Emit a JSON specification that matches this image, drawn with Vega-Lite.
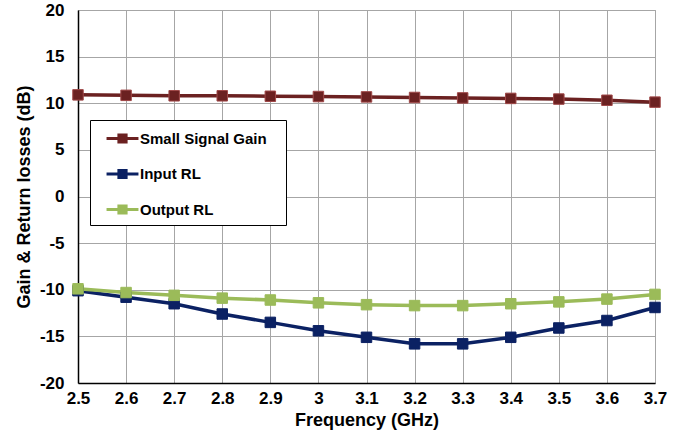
{
  "$schema": "https://vega.github.io/schema/vega-lite/v6.json",
  "width": 577,
  "height": 373,
  "autosize": {"type": "none"},
  "padding": {"left": 78, "top": 10, "right": 24, "bottom": 57},
  "background": "white",
  "config": {
    "font": "Liberation Sans",
    "view": {"stroke": "#9a9a9a", "strokeWidth": 1},
    "axis": {
      "labelFont": "Liberation Sans",
      "labelFontSize": 17,
      "labelFontWeight": "bold",
      "labelColor": "black",
      "titleFont": "Liberation Sans",
      "titleFontSize": 18,
      "titleFontWeight": "bold",
      "titleColor": "black",
      "domainColor": "black",
      "domainWidth": 1.5,
      "gridColor": "#a6a6a6",
      "gridWidth": 1,
      "gridOpacity": 1,
      "ticks": false
    },
    "legend": {
      "labelFont": "Liberation Sans",
      "labelFontSize": 15,
      "labelFontWeight": "bold",
      "labelColor": "black"
    }
  },
  "data": {
    "values": [
      {"f": 2.5, "s": "Small Signal Gain", "v": 10.9},
      {"f": 2.6, "s": "Small Signal Gain", "v": 10.85},
      {"f": 2.7, "s": "Small Signal Gain", "v": 10.8},
      {"f": 2.8, "s": "Small Signal Gain", "v": 10.8},
      {"f": 2.9, "s": "Small Signal Gain", "v": 10.75},
      {"f": 3.0, "s": "Small Signal Gain", "v": 10.72},
      {"f": 3.1, "s": "Small Signal Gain", "v": 10.68},
      {"f": 3.2, "s": "Small Signal Gain", "v": 10.62},
      {"f": 3.3, "s": "Small Signal Gain", "v": 10.57},
      {"f": 3.4, "s": "Small Signal Gain", "v": 10.52},
      {"f": 3.5, "s": "Small Signal Gain", "v": 10.45},
      {"f": 3.6, "s": "Small Signal Gain", "v": 10.32},
      {"f": 3.7, "s": "Small Signal Gain", "v": 10.12},
      {"f": 2.5, "s": "Input RL", "v": -10.1},
      {"f": 2.6, "s": "Input RL", "v": -10.8},
      {"f": 2.7, "s": "Input RL", "v": -11.5},
      {"f": 2.8, "s": "Input RL", "v": -12.6},
      {"f": 2.9, "s": "Input RL", "v": -13.5},
      {"f": 3.0, "s": "Input RL", "v": -14.4},
      {"f": 3.1, "s": "Input RL", "v": -15.1},
      {"f": 3.2, "s": "Input RL", "v": -15.8},
      {"f": 3.3, "s": "Input RL", "v": -15.8},
      {"f": 3.4, "s": "Input RL", "v": -15.1},
      {"f": 3.5, "s": "Input RL", "v": -14.1},
      {"f": 3.6, "s": "Input RL", "v": -13.3},
      {"f": 3.7, "s": "Input RL", "v": -11.9},
      {"f": 2.5, "s": "Output RL", "v": -9.9},
      {"f": 2.6, "s": "Output RL", "v": -10.3},
      {"f": 2.7, "s": "Output RL", "v": -10.6},
      {"f": 2.8, "s": "Output RL", "v": -10.9},
      {"f": 2.9, "s": "Output RL", "v": -11.1},
      {"f": 3.0, "s": "Output RL", "v": -11.4},
      {"f": 3.1, "s": "Output RL", "v": -11.6},
      {"f": 3.2, "s": "Output RL", "v": -11.7},
      {"f": 3.3, "s": "Output RL", "v": -11.7},
      {"f": 3.4, "s": "Output RL", "v": -11.5},
      {"f": 3.5, "s": "Output RL", "v": -11.3},
      {"f": 3.6, "s": "Output RL", "v": -11.0},
      {"f": 3.7, "s": "Output RL", "v": -10.5}
    ]
  },
  "encoding": {
    "x": {
      "field": "f",
      "type": "quantitative",
      "scale": {"domain": [2.5, 3.7], "nice": false, "zero": false},
      "axis": {
        "title": "Frequency (GHz)",
        "values": [2.5, 2.6, 2.7, 2.8, 2.9, 3.0, 3.1, 3.2, 3.3, 3.4, 3.5, 3.6, 3.7],
        "labelExpr": "format(datum.value, '.2~f')",
        "labelFlush": false,
        "labelPadding": 7,
        "titlePadding": 5
      }
    },
    "y": {
      "field": "v",
      "type": "quantitative",
      "scale": {"domain": [-20, 20], "nice": false},
      "axis": {
        "title": "Gain & Return losses (dB)",
        "values": [-20, -15, -10, -5, 0, 5, 10, 15, 20],
        "labelExpr": "'' + datum.value",
        "labelPadding": 14,
        "titlePadding": 6
      }
    },
    "color": {
      "field": "s",
      "type": "nominal",
      "scale": {
        "domain": ["Small Signal Gain", "Input RL", "Output RL"],
        "range": ["#6b2121", "#0b2163", "#9bbb59"]
      },
      "legend": {
        "title": "W",
        "titleOrient": "right",
        "titleFontSize": 12,
        "titleOpacity": 0,
        "titlePadding": 2,
        "orient": "none",
        "legendX": 12,
        "legendY": 110,
        "strokeColor": "black",
        "fillColor": "white",
        "padding": 5,
        "symbolType": "M-1.33,0H-0.3M0.3,0H1.33M-0.3,-0.3H0.3V0.3H-0.3Z",
        "symbolSize": 576,
        "symbolStrokeWidth": 3,
        "symbolOffset": 14,
        "labelOffset": 4,
        "rowPadding": 11.5
      }
    }
  },
  "layer": [
    {"mark": {"type": "line", "strokeWidth": 3.5}},
    {
      "mark": {"type": "point", "shape": "square", "filled": true, "size": 110, "opacity": 1, "strokeWidth": 1},
      "encoding": {
        "stroke": {
          "field": "s",
          "type": "nominal",
          "scale": {
            "domain": ["Small Signal Gain", "Input RL", "Output RL"],
            "range": ["#a04848", "#0b2163", "#9bbb59"]
          },
          "legend": null
        }
      }
    }
  ]
}
